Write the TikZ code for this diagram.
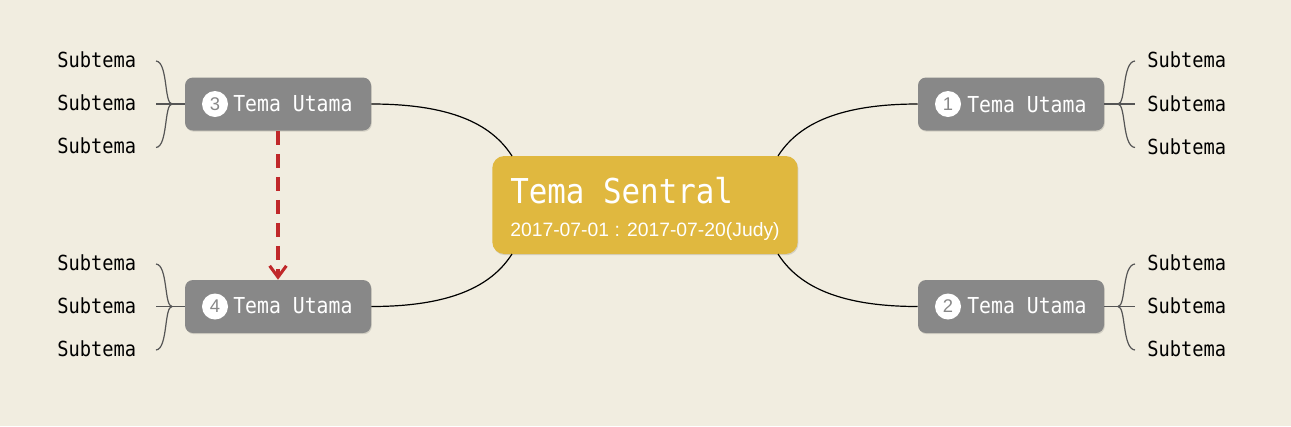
\documentclass[tikz,border=0pt]{standalone}
\usepackage{fontspec}
\setmainfont{Liberation Sans}
\newfontfamily\monof[FakeStretch=0.9]{DejaVu Sans Mono}
\usetikzlibrary{arrows.meta,shadows}
\definecolor{bg}{HTML}{F1EDE0}
\definecolor{boxgray}{HTML}{888888}
\definecolor{gold}{HTML}{E0B83F}
\definecolor{arrred}{HTML}{C0282A}
\definecolor{bracegray}{HTML}{555555}
\begin{document}
\begin{tikzpicture}[x=0.75pt,y=-0.75pt,
  tema/.style={fill=boxgray, rounded corners=6pt, minimum width=139.5pt, minimum height=39.75pt, inner sep=0pt,
    drop shadow={shadow xshift=0.6pt, shadow yshift=-0.9pt, opacity=0.12, fill=black}},
  central/.style={fill=gold, rounded corners=9pt, minimum width=229pt, minimum height=73.5pt, inner sep=0pt,
    drop shadow={shadow xshift=0.6pt, shadow yshift=-0.9pt, opacity=0.12, fill=black}},
  numc/.style={circle, fill=white, minimum size=19.5pt, inner sep=0pt, text=boxgray, font=\fontsize{13.8pt}{15pt}\selectfont},
  lbl/.style={anchor=base west, inner sep=0pt, text=white, font=\monof\fontsize{16.5pt}{18pt}\selectfont},
  sub/.style={anchor=base west, inner sep=0pt, text=black, font=\monof\fontsize{15.6pt}{18pt}\selectfont},
  conn/.style={draw=black, line width=0.9pt},
  brace/.style={draw=bracegray, line width=0.9pt},
  dep/.style={draw=arrred, line width=2.3pt, dash pattern=on 10.5pt off 6.75pt, -{Straight Barb[length=8.5pt,width=12.5pt]}}
]
\fill[bg] (0,0) rectangle (1291,426);
\useasboundingbox (0,0) rectangle (1291,426);

% central topic
\node[central] (c) at (645,205) {};
\node[anchor=base west, inner sep=0pt, text=white, font=\monof\fontsize{25.7pt}{28pt}\selectfont] (ctitle) at (510,203) {Tema Sentral};
\node[anchor=base west, inner sep=0pt, text=white, font=\fontsize{14.5pt}{16pt}\selectfont] (cdate) at (510,236) {2017-07-01 : 2017-07-20(Judy)};

% main topics
\node[tema] (t1) at (1011,104) {};
\node[tema] (t2) at (1011,306.5) {};
\node[tema] (t3) at (278,104) {};
\node[tema] (t4) at (278,306.5) {};

\node[numc] (n1) at (948,104) {1};
\node[numc] (n2) at (948,306.5) {2};
\node[numc] (n3) at (215,104) {3};
\node[numc] (n4) at (215,306.5) {4};

\node[lbl] (l1) at (967,112) {Tema Utama};
\node[lbl] (l2) at (967,313) {Tema Utama};
\node[lbl] (l3) at (233,111) {Tema Utama};
\node[lbl] (l4) at (233,313) {Tema Utama};

% connectors central -> main topics
\coordinate (cnw) at (512,156);
\coordinate (cne) at (778,156);
\coordinate (csw) at (512,254);
\coordinate (cse) at (778,254);
\draw[conn] (t3.east) .. controls (458,104) and (494,128) .. (cnw);
\draw[conn] (t4.east) .. controls (458,306.5) and (494,282) .. (csw);
\draw[conn] (t1.west) .. controls (832,104) and (796,128) .. (cne);
\draw[conn] (t2.west) .. controls (832,306.5) and (796,282) .. (cse);

% subtopic texts
\node[sub] (s3a) at (57,67) {Subtema};
\node[sub] (s3b) at (57,110.5) {Subtema};
\node[sub] (s3c) at (57,153.5) {Subtema};
\node[sub] (s4a) at (57,270.5) {Subtema};
\node[sub] (s4b) at (57,313) {Subtema};
\node[sub] (s4c) at (57,356.5) {Subtema};
\node[sub] (s1a) at (1147,67) {Subtema};
\node[sub] (s1b) at (1147,111) {Subtema};
\node[sub] (s1c) at (1147,154) {Subtema};
\node[sub] (s2a) at (1147,270.5) {Subtema};
\node[sub] (s2b) at (1147,313) {Subtema};
\node[sub] (s2c) at (1147,356) {Subtema};

% braces left top (topic 3)
\coordinate (j3) at (172,104);
\coordinate (e3a) at (156,61);
\coordinate (e3b) at (156,104);
\coordinate (e3c) at (156,147.5);
\draw[brace] (t3.west) -- (e3b);
\draw[brace] (j3) .. controls (164,104) and (168,62) .. (e3a);
\draw[brace] (j3) .. controls (164,104) and (168,146.5) .. (e3c);
% braces left bottom (topic 4)
\coordinate (j4) at (172,306.5);
\coordinate (e4a) at (156,264);
\coordinate (e4b) at (156,306.5);
\coordinate (e4c) at (156,350);
\draw[brace] (t4.west) -- (e4b);
\draw[brace] (j4) .. controls (164,306.5) and (168,265) .. (e4a);
\draw[brace] (j4) .. controls (164,306.5) and (168,349) .. (e4c);
% braces right top (topic 1)
\coordinate (j1) at (1118,104);
\coordinate (e1a) at (1135,61);
\coordinate (e1b) at (1135,104);
\coordinate (e1c) at (1135,147.5);
\draw[brace] (t1.east) -- (e1b);
\draw[brace] (j1) .. controls (1126,104) and (1122,62) .. (e1a);
\draw[brace] (j1) .. controls (1126,104) and (1122,146.5) .. (e1c);
% braces right bottom (topic 2)
\coordinate (j2) at (1118,306.5);
\coordinate (e2a) at (1135,264);
\coordinate (e2b) at (1135,306.5);
\coordinate (e2c) at (1135,350);
\draw[brace] (t2.east) -- (e2b);
\draw[brace] (j2) .. controls (1126,306.5) and (1122,265) .. (e2a);
\draw[brace] (j2) .. controls (1126,306.5) and (1122,349) .. (e2c);

% dependency arrow
\draw[dep] (t3.south) -- (t4.north);
\end{tikzpicture}
\end{document}
